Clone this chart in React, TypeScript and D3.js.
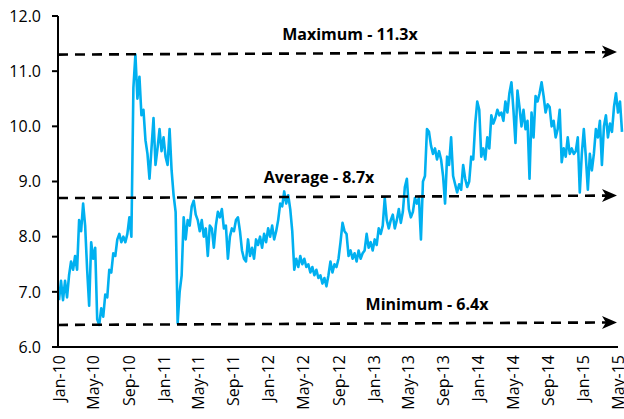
import React from "react";
import * as d3 from "d3";

const START = new Date(2010, 0, 1);
// weekly observations starting Jan-2010
const values: number[] = [
  6.85, 7.2, 6.85, 7.2, 6.9, 7.3, 7.55, 7.4, 7.65, 7.4,
  8.3, 8.1, 8.6, 8.2, 7.4, 6.75, 7.9, 7.6, 7.8, 6.5,
  6.4, 6.7, 6.55, 6.95, 6.9, 7.4, 7.35, 7.7, 7.65, 7.95,
  8.05, 7.9, 8.0, 7.9, 8.05, 8.35, 8.0, 10.7, 11.3, 10.5,
  10.9, 10.2, 10.3, 9.75, 9.5, 9.05, 9.6, 10.15, 9.3, 9.6,
  9.95, 9.55, 9.8, 9.45, 9.3, 9.95, 9.2, 8.75, 8.45, 6.43,
  7.0, 7.3, 8.35, 7.95, 8.3, 8.2, 8.55, 8.65, 8.4, 8.3,
  8.1, 8.3, 8.0, 8.15, 7.65, 8.2, 8.15, 7.8, 8.2, 8.45,
  8.35, 8.5, 8.15, 8.2, 7.6, 8.0, 8.15, 8.1, 8.3, 8.35,
  8.1, 7.75, 7.6, 7.55, 7.95, 7.65, 7.8, 7.6, 7.95, 7.85,
  8.0, 7.8, 8.05, 7.9, 8.15, 8.0, 8.2, 7.95, 8.1, 8.3,
  8.6, 8.55, 8.82, 8.6, 8.75, 8.5, 8.1, 7.4, 7.6, 7.45,
  7.65, 7.5, 7.6, 7.45, 7.5, 7.35, 7.45, 7.3, 7.4, 7.25,
  7.3, 7.15, 7.25, 7.1, 7.3, 7.55, 7.35, 7.5, 7.45, 7.6,
  7.9, 8.25, 8.1, 8.05, 7.65, 7.75, 7.6, 7.7, 7.55, 7.75,
  7.6, 7.7, 7.75, 8.05, 7.8, 7.9, 7.75, 7.95, 7.85, 8.15,
  8.05, 8.2, 8.7, 8.3, 8.15, 8.3, 8.4, 8.15, 8.3, 8.5,
  8.25, 8.45, 8.9, 9.05, 8.5, 8.35, 8.45, 8.7, 8.6, 8.7,
  7.95, 9.0, 9.1, 9.95, 9.9, 9.65, 9.5, 9.6, 9.4, 9.55,
  9.4, 9.1, 8.6, 9.45, 9.3, 9.8, 9.1, 8.95, 8.8, 8.95,
  8.85, 9.3, 9.05, 8.9, 9.0, 9.45, 9.4, 10.05, 10.45, 10.3,
  9.45, 9.6, 9.4, 9.8, 9.6, 10.2, 10.05, 10.15, 10.3, 10.2,
  10.25, 10.1, 10.45, 10.25, 10.6, 10.8, 10.3, 9.7, 10.65, 10.35,
  10.0, 10.3, 9.95, 10.1, 9.05, 10.25, 9.8, 10.55, 10.45, 10.6,
  10.8, 10.55, 10.25, 10.4, 10.35, 10.0, 10.1, 9.8, 9.95, 10.3,
  9.35, 9.6, 9.45, 9.8, 9.5, 9.6, 9.5, 9.55, 9.8, 8.8,
  9.5, 9.95, 9.45, 8.85, 9.5, 9.2, 9.5, 9.95, 9.8, 10.1,
  9.3, 10.0, 10.2, 9.8, 10.05, 9.9, 10.35, 10.6, 10.25, 10.45,
  9.9,
];

const yTicks = [6, 7, 8, 9, 10, 11, 12];
const xTickLabels = [
  "Jan-10", "May-10", "Sep-10", "Jan-11", "May-11", "Sep-11", "Jan-12", "May-12",
  "Sep-12", "Jan-13", "May-13", "Sep-13", "Jan-14", "May-14", "Sep-14", "Jan-15", "May-15",
];
const refValues = [11.3, 8.7, 6.4];
const refLabels = ["Maximum - 11.3x", "Average - 8.7x", "Minimum - 6.4x"];
const refLabelX = [350, 319, 427];

export default function App() {
  const W = 624, H = 419;
  const left = 58, right = 618, top = 16, bottom = 347;
  const x = d3.scaleTime().domain([new Date(2010, 0, 1), new Date(2015, 4, 1)]).range([59, right]);
  const y = d3.scaleLinear().domain([6, 12]).range([bottom, top]);

  const data = values.map((v, i) => ({ d: d3.timeDay.offset(START, i * 7), v }));
  const line = d3.line<{ d: Date; v: number }>().x((p) => x(p.d)).y((p) => y(p.v));

  const tickDates = xTickLabels.map((_, i) => d3.timeMonth.offset(new Date(2010, 0, 1), i * 4));
  const font = "'Open Sans', sans-serif";

  return (
    <svg width={W} height={H} style={{ position: "absolute", left: 0, top: 0, background: "#fff" }}>
      {/* line */}
      <path d={line(data) || ""} fill="none" stroke="#00B0F0" strokeWidth={2.6} strokeLinejoin="round" />

      {/* reference lines */}
      {refValues.map((rv, i) => {
        const y0 = y(rv);
        const y1 = y0 - 2.5;
        const tip = 617;
        return (
          <g key={i}>
            <line x1={left} y1={y0} x2={tip - 10} y2={y1 + 0.05} stroke="#000" strokeWidth={2.6} strokeDasharray="10,7" />
            <path
              d={`M${tip},${y1} L${tip - 15},${y1 - 6.5} L${tip - 11},${y1} L${tip - 15},${y1 + 6.5} Z`}
              fill="#000"
            />
            <text
              x={refLabelX[i]}
              y={y0 - 15}
              textAnchor="middle"
              fontFamily={font}
              fontWeight="bold"
              fontSize={16}
              fill="#000"
            >
              {refLabels[i]}
            </text>
          </g>
        );
      })}

      {/* axes */}
      <line x1={left} y1={top} x2={left} y2={bottom} stroke="#000" strokeWidth={2} />
      <line x1={left - 1} y1={bottom} x2={right} y2={bottom} stroke="#000" strokeWidth={2} />
      {yTicks.map((t) => (
        <g key={t}>
          <line x1={left - 6} x2={left} y1={y(t)} y2={y(t)} stroke="#000" strokeWidth={2} />
          <text
            x={left - 17}
            y={y(t)}
            dy="0.36em"
            textAnchor="end"
            fontFamily={font}
            fontSize={16}
            fill="#000"
          >
            {t.toFixed(1)}
          </text>
        </g>
      ))}
      {xTickLabels.map((lab, i) => {
        const tx = x(tickDates[i]);
        return (
          <text
            key={lab}
            transform={`translate(${tx},${bottom + 8}) rotate(-90)`}
            dy="0.36em"
            textAnchor="end"
            fontFamily={font}
            fontSize={16}
            fill="#000"
          >
            {lab}
          </text>
        );
      })}
    </svg>
  );
}
